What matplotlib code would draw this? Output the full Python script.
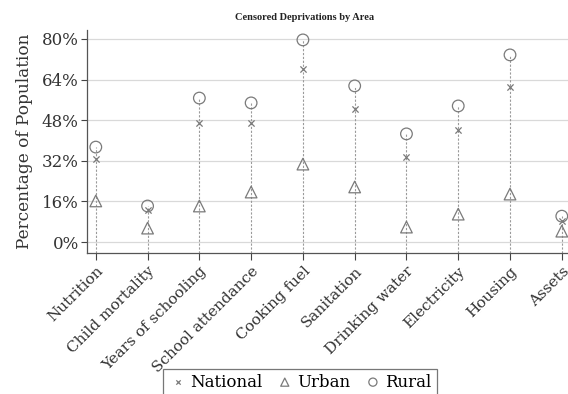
import numpy as np
import matplotlib.pyplot as plt
from matplotlib.ticker import FuncFormatter

plt.rcParams['font.family'] = ['DejaVu Serif']

# Data (percent of population)
areas = ['Nutrition', 'Child mortality', 'Years of schooling', 'School attendance',
         'Cooking fuel', 'Sanitation', 'Drinking water', 'Electricity', 'Housing', 'Assets']
national = [32.7, 12.6, 46.9, 47.0, 68.0, 52.4, 33.5, 44.0, 61.0, 8.3]
urban = [16.2, 5.5, 14.2, 19.7, 30.7, 21.7, 5.9, 11.0, 18.9, 4.3]
rural = [37.4, 14.2, 56.7, 54.8, 79.6, 61.5, 42.6, 53.6, 73.7, 10.2]
yticks = [0, 16, 32, 48, 64, 80]

grey = '#7a7a7a'
fig = plt.figure(figsize=(5.68, 3.94), dpi=100)
ax = fig.add_axes([87 / 568, 1 - 253 / 394, (568 - 87) / 568, (253 - 30) / 394])

x = np.arange(len(areas))
ymin, ymax = -4.3, 83.5
top = np.maximum(np.maximum(national, urban), rural)
ax.vlines(x, ymin, top, colors='#9a9a9a', linestyles=(0, (2, 1.5)), linewidth=0.8, zorder=1)

ax.scatter(x, national, marker='x', s=20, color=grey, linewidths=0.9, zorder=3, label='National')
ax.scatter(x, urban, marker='^', s=70, facecolors='none', edgecolors=grey, linewidths=0.9,
           zorder=3, label='Urban')
ax.scatter(x, rural, marker='o', s=70, facecolors='none', edgecolors=grey, linewidths=0.9,
           zorder=3, label='Rural')

ax.set_xlim(-0.17, 9.12)
ax.set_ylim(ymin, ymax)
ax.set_yticks(yticks)
ax.yaxis.set_major_formatter(FuncFormatter(lambda v, p: f'{v:.0f}%'))
ax.grid(axis='y', color='#d9d9d9', linewidth=0.9)
ax.set_axisbelow(True)

ax.set_xticks(x)
ax.set_xticklabels(areas, rotation=45, ha='right', rotation_mode='anchor', fontsize=11)
ax.tick_params(axis='y', labelsize=12, colors='#444444', length=4, width=0.8, pad=2)
ax.tick_params(axis='x', colors='#444444', length=5, width=0.8, pad=3)
for lab in ax.get_yticklabels() + ax.get_xticklabels():
    lab.set_color('#333333')

for side in ['top', 'right']:
    ax.spines[side].set_visible(False)
for side in ['left', 'bottom']:
    ax.spines[side].set_color('#555555')
    ax.spines[side].set_linewidth(0.9)

ax.set_ylabel('Percentage of Population', fontsize=12.2, color='#333333', labelpad=6)
fig.text(305 / 568, 1 - 18 / 394, 'Censored Deprivations by Area', ha='center', va='center',
         fontsize=7.5, fontweight='bold', color='#222222', family='Liberation Serif')

leg = fig.legend(loc='lower center', bbox_to_anchor=(300 / 568, -0.025), ncol=3, fontsize=12,
                 frameon=True, fancybox=False, edgecolor='#555555', handletextpad=0.2,
                 columnspacing=0.8, handlelength=1.1, markerscale=0.7, borderpad=0.3)
leg.get_frame().set_linewidth(0.9)

fig.savefig('out.png', dpi=100, facecolor='white')
